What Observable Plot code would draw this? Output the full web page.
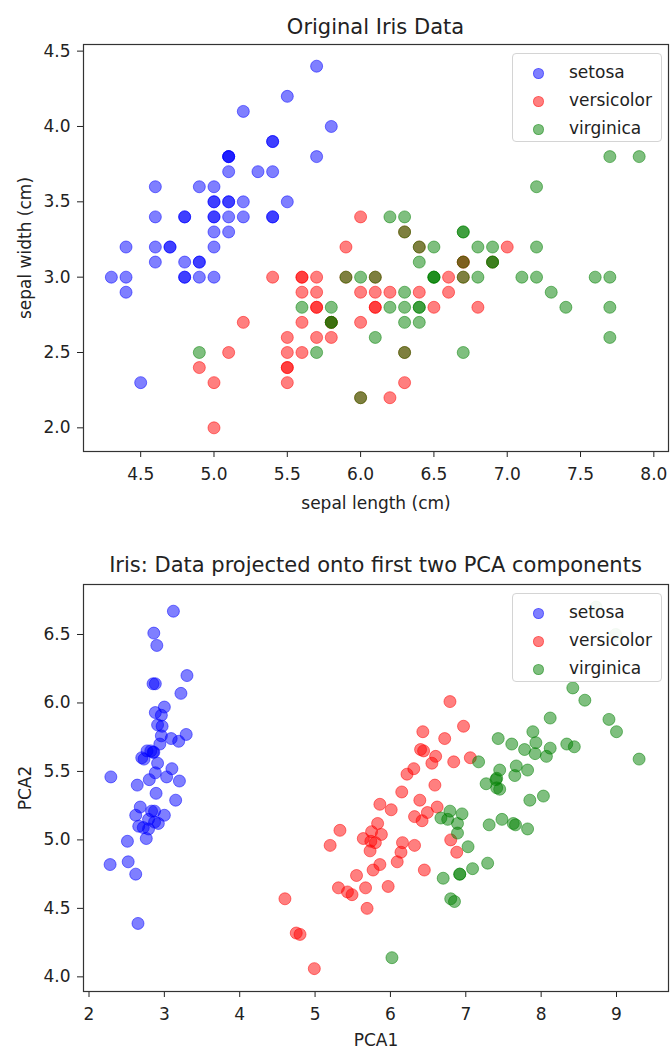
<!DOCTYPE html>
<html>
<head>
<meta charset="utf-8">
<script src="https://cdn.jsdelivr.net/npm/d3@7"></script>
<script src="https://cdn.jsdelivr.net/npm/@observablehq/plot@0.6"></script>
<style>
  body { margin: 0; background: #fff; font-family: "DejaVu Sans", sans-serif; color: #222; }
  #page { position: relative; width: 670px; height: 1049px; overflow: hidden; }
  .title { position: absolute; left: 83px; width: 585px; text-align: center; font-size: 21px; line-height: 24px; white-space: nowrap; }
  .chart { position: absolute; left: 0; }
  .legend { position: absolute; left: 512px; width: 150px; height: 89px; border: 1px solid #d4d4d4; border-radius: 4px;
            background: rgba(255,255,255,0.92); box-sizing: border-box; }
  .legend .row { position: absolute; left: 0; height: 24px; line-height: 24px; font-size: 17px; white-space: nowrap; }
  .legend .sw { position: absolute; top: 6.5px; width: 11px; height: 11px; border-radius: 50%; box-sizing: border-box; border-width: 1px; border-style: solid; }
  .legend .lb { position: absolute; left: 56px; top: -1px; }
</style>
</head>
<body>
<div id="page"></div>
<script>
// ---- categories & styling ----
const species = ["setosa", "versicolor", "virginica"];
const speciesColors = ["blue", "red", "green"];

// ---- chart 1: sepal measurements ----
const setosaSepalLength = [5.1,4.9,4.7,4.6,5.0,5.4,4.6,5.0,4.4,4.9,5.4,4.8,4.8,4.3,5.8,5.7,5.4,5.1,5.7,5.1,5.4,5.1,4.6,5.1,4.8,5.0,5.0,5.2,5.2,4.7,4.8,5.4,5.2,5.5,4.9,5.0,5.5,4.9,4.4,5.1,5.0,4.5,4.4,5.0,5.1,4.8,5.1,4.6,5.3,5.0];
const setosaSepalWidth = [3.5,3.0,3.2,3.1,3.6,3.9,3.4,3.4,2.9,3.1,3.7,3.4,3.0,3.0,4.0,4.4,3.9,3.5,3.8,3.8,3.4,3.7,3.6,3.3,3.4,3.0,3.4,3.5,3.4,3.2,3.1,3.4,4.1,4.2,3.1,3.2,3.5,3.6,3.0,3.4,3.5,2.3,3.2,3.5,3.8,3.0,3.8,3.2,3.7,3.3];
const versicolorSepalLength = [7.0,6.4,6.9,5.5,6.5,5.7,6.3,4.9,6.6,5.2,5.0,5.9,6.0,6.1,5.6,6.7,5.6,5.8,6.2,5.6,5.9,6.1,6.3,6.1,6.4,6.6,6.8,6.7,6.0,5.7,5.5,5.5,5.8,6.0,5.4,6.0,6.7,6.3,5.6,5.5,5.5,6.1,5.8,5.0,5.6,5.7,5.7,6.2,5.1,5.7];
const versicolorSepalWidth = [3.2,3.2,3.1,2.3,2.8,2.8,3.3,2.4,2.9,2.7,2.0,3.0,2.2,2.9,2.9,3.1,3.0,2.7,2.2,2.5,3.2,2.8,2.5,2.8,2.9,3.0,2.8,3.0,2.9,2.6,2.4,2.4,2.7,2.7,3.0,3.4,3.1,2.3,3.0,2.5,2.6,3.0,2.6,2.3,2.7,3.0,2.9,2.9,2.5,2.8];
const virginicaSepalLength = [6.3,5.8,7.1,6.3,6.5,7.6,4.9,7.3,6.7,7.2,6.5,6.4,6.8,5.7,5.8,6.4,6.5,7.7,7.7,6.0,6.9,5.6,7.7,6.3,6.7,7.2,6.2,6.1,6.4,7.2,7.4,7.9,6.4,6.3,6.1,7.7,6.3,6.4,6.0,6.9,6.7,6.9,5.8,6.8,6.7,6.7,6.3,6.5,6.2,5.9];
const virginicaSepalWidth = [3.3,2.7,3.0,2.9,3.0,3.0,2.5,2.9,2.5,3.6,3.2,2.7,3.0,2.5,2.8,3.2,3.0,3.8,2.6,2.2,3.2,2.8,2.8,2.7,3.3,3.2,2.8,3.0,2.8,3.0,2.8,3.8,2.8,2.8,2.6,3.0,3.4,3.1,3.0,3.1,3.1,3.1,2.7,3.2,3.3,3.0,2.5,3.0,3.4,3.0];

// ---- chart 2: PCA projections ----
const setosaPCA1 = [2.82,2.79,2.62,2.76,2.77,3.22,2.68,2.88,2.62,2.83,3.00,2.89,2.72,2.28,2.86,3.12,2.88,2.85,3.30,2.91,3.19,2.96,2.29,3.20,3.15,3.00,3.03,2.94,2.86,2.87,2.92,3.09,2.85,2.90,2.87,2.64,2.88,2.70,2.52,2.91,2.73,2.65,2.51,3.10,3.29,2.79,2.97,2.66,2.96,2.80];
const setosaPCA2 = [5.65,5.15,5.18,5.01,5.65,6.07,5.24,5.49,4.75,5.21,5.97,5.34,5.09,4.82,6.51,6.67,6.14,5.64,6.20,5.84,5.72,5.76,5.46,5.43,5.29,5.18,5.46,5.70,5.64,5.13,5.12,5.74,6.14,6.42,5.21,5.40,5.93,5.60,4.84,5.56,5.59,4.39,4.99,5.52,5.77,5.08,5.83,5.10,5.91,5.44];
const versicolorPCA1 = [6.79,6.44,6.97,5.69,6.59,6.14,6.60,4.75,6.55,5.49,4.99,6.01,5.77,6.49,5.33,6.43,6.16,5.74,6.45,5.55,6.62,5.86,6.80,6.42,6.22,6.40,6.84,7.06,6.32,5.20,5.43,5.31,5.64,6.88,6.09,6.31,6.72,6.32,5.75,5.67,5.97,6.39,5.73,4.80,5.86,5.83,5.88,6.15,4.60,5.80];
const versicolorPCA2 = [6.01,5.65,5.83,4.50,5.40,4.91,5.61,4.32,5.56,4.60,4.06,5.22,4.78,5.20,5.07,5.79,4.98,4.99,4.78,4.74,5.24,5.26,5.00,5.14,5.48,5.66,5.57,5.60,5.17,4.96,4.62,4.65,5.01,4.91,4.84,5.52,5.74,4.96,5.06,4.65,4.66,5.29,4.92,4.31,4.82,5.12,5.04,5.35,4.57,4.98];
const virginicaPCA1 = [8.03,6.92,8.12,7.48,7.85,8.90,6.02,8.44,7.82,8.42,7.17,7.31,7.67,6.85,7.09,7.41,7.45,8.99,9.30,6.80,7.93,6.70,9.00,6.89,7.78,8.12,6.76,6.79,7.63,7.89,8.34,8.73,7.66,6.95,7.29,8.58,7.65,7.41,6.67,7.61,7.82,7.43,6.92,8.07,7.92,7.45,7.03,7.27,7.40,6.89];
const virginicaPCA2 = [5.32,4.75,5.67,5.15,5.29,5.88,4.14,5.68,5.08,6.11,5.57,5.11,5.54,4.55,4.79,5.45,5.37,6.50,5.59,4.57,5.71,4.72,5.79,5.12,5.66,5.89,5.15,5.21,5.12,5.79,5.70,6.70,5.11,5.19,4.83,6.02,5.47,5.38,5.16,5.70,5.51,5.74,4.75,5.61,5.63,5.51,4.95,5.41,5.44,5.05];

// ---- tick labels ----
const sepalLengthTicks = [4.5, 5.0, 5.5, 6.0, 6.5, 7.0, 7.5, 8.0];
const sepalWidthTicks = [2.0, 2.5, 3.0, 3.5, 4.0, 4.5];
const pca1Ticks = [2, 3, 4, 5, 6, 7, 8, 9];
const pca2Ticks = [4.0, 4.5, 5.0, 5.5, 6.0, 6.5];

// ---- texts ----
const title1 = "Original Iris Data";
const title2 = "Iris: Data projected onto first two PCA components";

function rows(xs, ys) {
  return species.flatMap((s, i) => xs[i].map((x, j) => ({species: s, x, y: ys[i][j]})));
}
const data1 = rows([setosaSepalLength, versicolorSepalLength, virginicaSepalLength],
                   [setosaSepalWidth, versicolorSepalWidth, virginicaSepalWidth]);
const data2 = rows([setosaPCA1, versicolorPCA1, virginicaPCA1],
                   [setosaPCA2, versicolorPCA2, virginicaPCA2]);

const page = document.getElementById("page");

function makeChart({data, top, height, marginBottom, xDomain, yDomain, xTicks, yTicks, xFmt, yFmt, xLabel, yLabel, xLabelOffset, yLabelOffset, title, titleTop, legendTop}) {
  const t = document.createElement("div");
  t.className = "title";
  t.style.top = titleTop + "px";
  t.textContent = title;
  page.appendChild(t);

  const chart = Plot.plot({
    width: 670, height, marginLeft: 83, marginRight: 2, marginTop: 4, marginBottom,
    style: {fontFamily: "DejaVu Sans, sans-serif", fontSize: "17px", color: "#222", background: "transparent", overflow: "visible"},
    x: {domain: xDomain, ticks: xTicks, tickFormat: xFmt, tickSize: 6, tickPadding: 10,
        label: xLabel, labelAnchor: "center", labelOffset: xLabelOffset, labelArrow: "none"},
    y: {domain: yDomain, ticks: yTicks, tickFormat: yFmt, tickSize: 6, tickPadding: 7,
        label: yLabel, labelAnchor: "center", labelOffset: yLabelOffset, labelArrow: "none"},
    color: {domain: species, range: speciesColors},
    marks: [
      Plot.dot(data, {x: "x", y: "y", fill: "species", stroke: "species", r: 6,
                      fillOpacity: 0.5, strokeOpacity: 0.5, strokeWidth: 1}),
      Plot.frame({stroke: "#333", strokeWidth: 1.2})
    ]
  });
  chart.classList.add("chart");
  chart.style.top = top + "px";
  page.appendChild(chart);

  const lg = document.createElement("div");
  lg.className = "legend";
  lg.style.top = legendTop + "px";
  species.forEach((s, i) => {
    const r = document.createElement("div");
    r.className = "row";
    r.style.top = (7 + i * 28) + "px";
    const sw = document.createElement("span");
    sw.className = "sw";
    sw.style.left = "19.5px";
    const c = d3.color(speciesColors[i]);
    sw.style.background = `rgba(${c.r},${c.g},${c.b},0.5)`;
    sw.style.borderColor = `rgba(${c.r},${c.g},${c.b},0.35)`;
    const lb = document.createElement("span");
    lb.className = "lb";
    lb.textContent = s;
    r.appendChild(sw); r.appendChild(lb);
    lg.appendChild(r);
  });
  page.appendChild(lg);
}

makeChart({
  data: data1, top: 40, height: 480, marginBottom: 69,
  xDomain: [4.11, 8.10], yDomain: [1.843, 4.544],
  xTicks: sepalLengthTicks, yTicks: sepalWidthTicks,
  xFmt: d3.format(".1f"), yFmt: d3.format(".1f"),
  xLabel: "sepal length (cm)", yLabel: "sepal width (cm)",
  xLabelOffset: 57, yLabelOffset: 65,
  title: title1, titleTop: 15, legendTop: 53
});

makeChart({
  data: data2, top: 580, height: 469, marginBottom: 58,
  xDomain: [1.927, 9.69], yDomain: [3.893, 6.865],
  xTicks: pca1Ticks, yTicks: pca2Ticks,
  xFmt: d3.format("d"), yFmt: d3.format(".1f"),
  xLabel: "PCA1", yLabel: "PCA2",
  xLabelOffset: 54, yLabelOffset: 65,
  title: title2, titleTop: 553, legendTop: 593
});
</script>
</body>
</html>
